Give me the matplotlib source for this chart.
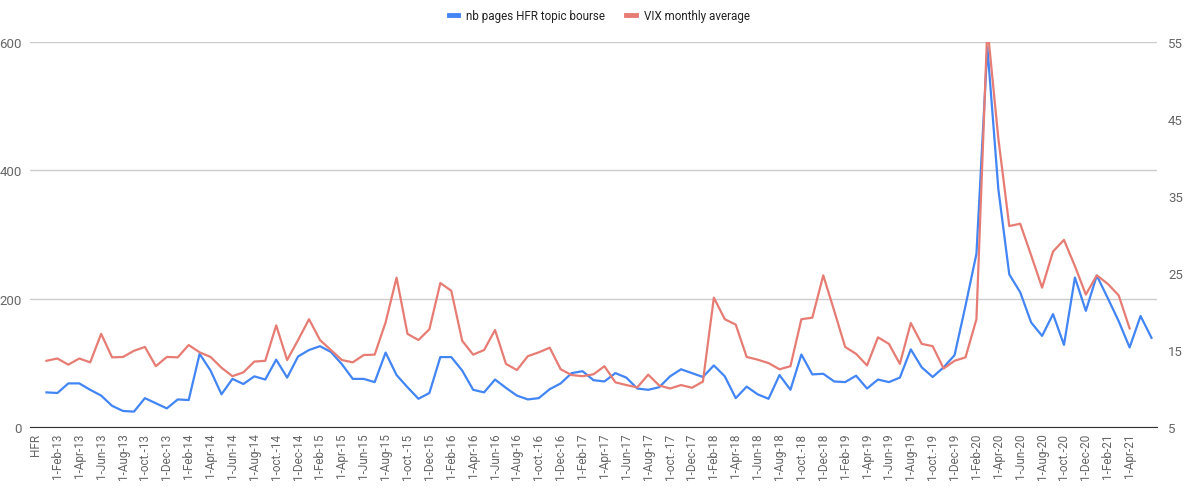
import numpy as np
import matplotlib
matplotlib.use("Agg")
import matplotlib.pyplot as plt

plt.rcParams['font.family'] = ['Roboto', 'DejaVu Sans']

# monthly categories, first category is the sheet header "HFR"
months = ["Jan", "Feb", "Mar", "Apr", "May", "Jun", "Jul", "Aug", "Sep", "oct.", "Nov", "Dec"]
years = ["13", "14", "15", "16", "17", "18", "19", "20", "21"]

# nb pages HFR topic bourse, Jan-13 .. Jun-21
pages = [54, 53, 68, 68, 58, 49, 33, 25, 24, 45,
         37, 29, 43, 42, 114, 88, 51, 75, 67, 79,
         74, 105, 77, 110, 120, 126, 117, 98, 75, 75,
         70, 116, 81, 62, 44, 53, 109, 109, 88, 58,
         54, 74, 61, 49, 43, 45, 59, 68, 84, 87,
         73, 71, 84, 77, 60, 58, 62, 79, 90, 84,
         78, 96, 79, 45, 63, 51, 44, 81, 58, 113,
         82, 83, 71, 70, 80, 60, 74, 70, 77, 121,
         93, 78, 93, 112, 189, 270, 592, 371, 238, 210,
         163, 142, 176, 128, 233, 181, 236, 201, 165, 124,
         173, 139]

# VIX monthly average, Jan-13 .. Apr-21
vix = [13.6, 13.9, 13.1, 13.9, 13.4, 17.1, 14.05, 14.1, 14.9, 15.4,
       12.9, 14.1, 14.05, 15.65, 14.7, 14.1, 12.7, 11.6, 12.1, 13.5,
       13.6, 18.2, 13.7, 16.3, 19.0, 16.3, 15.0, 13.7, 13.4, 14.35,
       14.4, 18.6, 24.4, 17.1, 16.3, 17.7, 23.7, 22.7, 16.2, 14.4,
       15.0, 17.6, 13.2, 12.4, 14.2, 14.7, 15.3, 12.5, 11.75, 11.6,
       11.85, 12.9, 10.8, 10.45, 10.15, 11.8, 10.4, 10.0, 10.45, 10.1,
       10.9, 21.8, 19.0, 18.3, 14.1, 13.75, 13.3, 12.5, 12.9, 19.0,
       19.2, 24.7, 20.1, 15.4, 14.5, 13.0, 16.65, 15.8, 13.2, 18.5,
       15.8, 15.5, 12.6, 13.6, 14.05, 19.0, 57.0, 42.5, 31.1, 31.4,
       27.3, 23.1, 27.8, 29.3, 25.9, 22.2, 24.7, 23.6, 22.1, 17.8]

left_ticks = [0, 200, 400, 600]
right_ticks = [5, 15, 25, 35, 45, 55]

labels = ["HFR"] + [f"1-{m}-{y}" for y in years for m in months]
labels = labels[:len(pages) + 1]

blue = "#4285F4"
red = "#E67C73"
grey = "#666666"

fig = plt.figure(figsize=(11.87, 4.89), dpi=100)
ax = fig.add_axes([0.0253, 0.1247, 0.9494, 0.7873])
ax2 = ax.twinx()

x_pages = np.arange(1, len(pages) + 1)
x_vix = np.arange(1, len(vix) + 1)

l1, = ax.plot(x_pages, pages, color=blue, lw=1.6, label="nb pages HFR topic bourse")
l2, = ax2.plot(x_vix, vix, color=red, lw=1.6, label="VIX monthly average")

ax.set_xlim(-0.5, len(labels) - 0.5)
ax.set_ylim(0, 600)
ax2.set_ylim(5, 55)

ax.set_yticks(left_ticks)
ax2.set_yticks(right_ticks)
ax.grid(axis="y", color="#cccccc", lw=1)
ax.set_axisbelow(True)

tick_pos = list(range(0, len(labels) - 1, 2))
ax.set_xticks(tick_pos)
ax.set_xticklabels([labels[i] for i in tick_pos], rotation=90, fontsize=8.5, color=grey)

for a in (ax, ax2):
    for s in a.spines.values():
        s.set_visible(False)
    a.tick_params(length=0)
ax.spines["bottom"].set_visible(True)
ax.spines["bottom"].set_color("#333333")
ax.tick_params(axis="x", pad=4)
ax.tick_params(axis="y", labelsize=9.5, labelcolor=grey, pad=6)
ax2.tick_params(axis="y", labelsize=9.5, labelcolor=grey, pad=8)

fig.legend(handles=[l1, l2], loc="upper center", bbox_to_anchor=(0.505, 1.0), ncol=2,
           frameon=False, fontsize=8.4, handlelength=0.8, handletextpad=0.7,
           columnspacing=1.8, labelcolor="#222222")
for h in fig.legends[0].legend_handles:
    h.set_linewidth(3.5)

fig.savefig("out.png", dpi=100)
